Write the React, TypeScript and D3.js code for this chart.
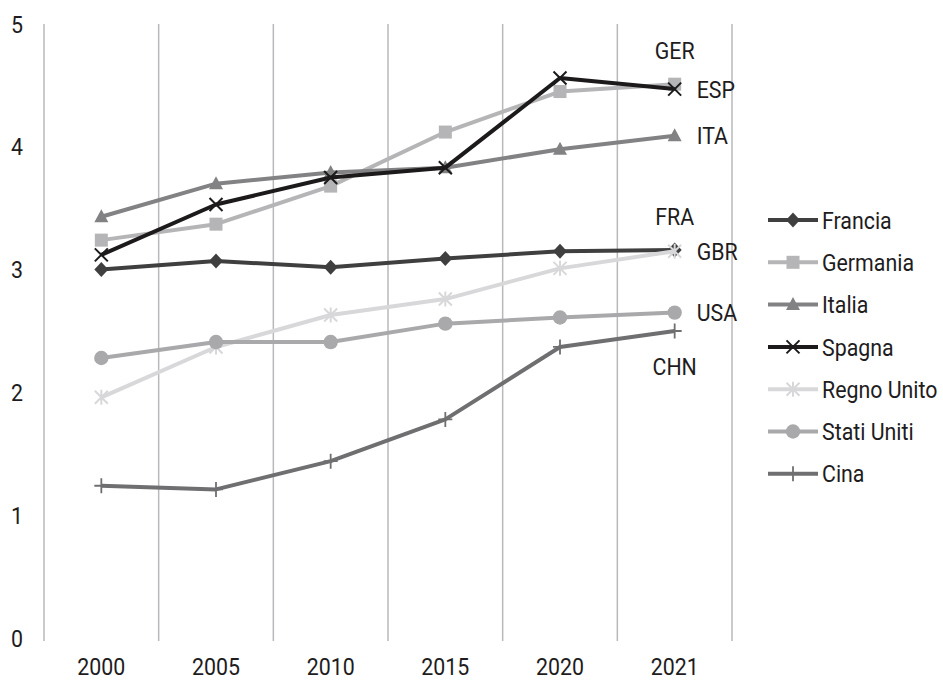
import React from "react";
import * as d3 from "d3";

const years = ["2000", "2005", "2010", "2015", "2020", "2021"];
const yTicks = [0, 1, 2, 3, 4, 5];

const francia = [3.0, 3.07, 3.02, 3.09, 3.15, 3.16];
const germania = [3.24, 3.37, 3.68, 4.12, 4.45, 4.51];
const italia = [3.43, 3.7, 3.79, 3.83, 3.98, 4.09];
const spagna = [3.12, 3.53, 3.75, 3.83, 4.56, 4.47];
const regnoUnito = [1.96, 2.37, 2.63, 2.76, 3.01, 3.15];
const statiUniti = [2.28, 2.41, 2.41, 2.56, 2.61, 2.65];
const cina = [1.24, 1.21, 1.44, 1.78, 2.37, 2.5];

type Marker = "diamond" | "square" | "triangle" | "x" | "asterisk" | "circle" | "plus";
type Side = "above" | "right" | "below";

const series: { name: string; code: string; values: number[]; color: string; marker: Marker; side: Side }[] = [
  { name: "Francia", code: "FRA", values: francia, color: "#3f3f3f", marker: "diamond", side: "above" },
  { name: "Germania", code: "GER", values: germania, color: "#b5b5b7", marker: "square", side: "above" },
  { name: "Italia", code: "ITA", values: italia, color: "#828284", marker: "triangle", side: "right" },
  { name: "Spagna", code: "ESP", values: spagna, color: "#1c1a1b", marker: "x", side: "right" },
  { name: "Regno Unito", code: "GBR", values: regnoUnito, color: "#d8d8da", marker: "asterisk", side: "right" },
  { name: "Stati Uniti", code: "USA", values: statiUniti, color: "#a9a9ab", marker: "circle", side: "right" },
  { name: "Cina", code: "CHN", values: cina, color: "#6f6f71", marker: "plus", side: "below" },
];

const W = 943;
const H = 681;
const FONT = "Roboto, 'Liberation Sans', sans-serif";
const FONT_SIZE = 24;
const SQUEEZE = 0.89;
const TEXT_COLOR = "#1e1c1d";

const x = d3.scaleBand<string>().domain(years).range([44, 732]);
const y = d3.scaleLinear().domain([0, 5]).range([638, 24]);

// Condensed label: the font is narrowed horizontally around its anchor point
function Label({ x: tx, y: ty, anchor = "start", children }: { x: number; y: number; anchor?: "start" | "middle" | "end"; children: React.ReactNode }) {
  return (
    <text
      transform={`translate(${tx},${ty}) scale(${SQUEEZE},1)`}
      dy="0.36em"
      textAnchor={anchor}
      fontFamily={FONT}
      fontSize={FONT_SIZE}
      fill={TEXT_COLOR}
    >
      {children}
    </text>
  );
}

function MarkerShape({ kind, cx, cy, color }: { kind: Marker; cx: number; cy: number; color: string }) {
  switch (kind) {
    case "diamond":
      return <path d={`M${cx},${cy - 7.5}L${cx + 7},${cy}L${cx},${cy + 7.5}L${cx - 7},${cy}Z`} fill={color} />;
    case "square":
      return <rect x={cx - 6.5} y={cy - 6.5} width={13} height={13} fill={color} />;
    case "triangle":
      return <path d={`M${cx},${cy - 7.5}L${cx + 7},${cy + 5.5}L${cx - 7},${cy + 5.5}Z`} fill={color} />;
    case "circle":
      return <circle cx={cx} cy={cy} r={7.2} fill={color} />;
    case "x":
      return (
        <path
          d={`M${cx - 6.5},${cy - 6.5}L${cx + 6.5},${cy + 6.5}M${cx - 6.5},${cy + 6.5}L${cx + 6.5},${cy - 6.5}`}
          stroke={color}
          strokeWidth={2}
          fill="none"
        />
      );
    case "asterisk":
      return (
        <path
          d={`M${cx - 6.5},${cy - 6.5}L${cx + 6.5},${cy + 6.5}M${cx - 6.5},${cy + 6.5}L${cx + 6.5},${cy - 6.5}M${cx},${cy - 7.5}L${cx},${cy + 7.5}`}
          stroke={color}
          strokeWidth={2}
          fill="none"
        />
      );
    case "plus":
      return (
        <path
          d={`M${cx - 7},${cy}L${cx + 7},${cy}M${cx},${cy - 7.5}L${cx},${cy + 7.5}`}
          stroke={color}
          strokeWidth={1.8}
          fill="none"
        />
      );
  }
}

export default function App() {
  const cxOf = (yr: string) => (x(yr) ?? 0) + x.bandwidth() / 2;
  const line = d3
    .line<number>()
    .x((_, i) => cxOf(years[i]))
    .y((v) => y(v));

  const gridXs = [...years.map((yr) => x(yr) ?? 0), 732];
  const lastYear = years[years.length - 1];

  const legendX = 768;
  const legendY0 = 220;
  const legendStep = 42.3;

  return (
    <svg width={W} height={H} style={{ position: "absolute", left: 0, top: 0, background: "#fff" }}>
      <rect width={W} height={H} fill="#fff" />
      {/* vertical gridlines at category boundaries */}
      {gridXs.map((gx, i) => (
        <line key={i} x1={gx} x2={gx} y1={24} y2={641} stroke="#b9b9bd" strokeWidth={1.5} />
      ))}

      {/* y axis labels */}
      {yTicks.map((t) => (
        <Label key={t} x={23} y={y(t)} anchor="end">
          {t}
        </Label>
      ))}

      {/* x axis labels */}
      {years.map((yr) => (
        <Label key={yr} x={cxOf(yr)} y={666} anchor="middle">
          {yr}
        </Label>
      ))}

      {/* series lines and markers */}
      {series.map((s) => (
        <g key={s.name}>
          <path d={line(s.values) ?? ""} fill="none" stroke={s.color} strokeWidth={4} strokeLinejoin="round" />
          {s.values.map((v, i) => (
            <MarkerShape key={i} kind={s.marker} cx={cxOf(years[i])} cy={y(v)} color={s.color} />
          ))}
        </g>
      ))}

      {/* end-of-line country codes */}
      {series.map((s) => {
        const v = s.values[s.values.length - 1];
        const px = cxOf(lastYear);
        const py = y(v);
        let tx = px;
        let ty = py;
        let anchor: "start" | "middle" = "middle";
        if (s.side === "right") {
          tx = px + 22;
          anchor = "start";
        } else if (s.side === "above") {
          ty = py - 34;
        } else {
          ty = py + 35;
        }
        return (
          <Label key={s.code} x={tx} y={ty} anchor={anchor}>
            {s.code}
          </Label>
        );
      })}

      {/* legend */}
      {series.map((s, i) => {
        const ly = legendY0 + i * legendStep;
        return (
          <g key={s.name}>
            <line x1={legendX} x2={legendX + 50} y1={ly} y2={ly} stroke={s.color} strokeWidth={4} />
            <MarkerShape kind={s.marker} cx={legendX + 25} cy={ly} color={s.color} />
            <Label x={legendX + 54} y={ly}>
              {s.name}
            </Label>
          </g>
        );
      })}
    </svg>
  );
}
